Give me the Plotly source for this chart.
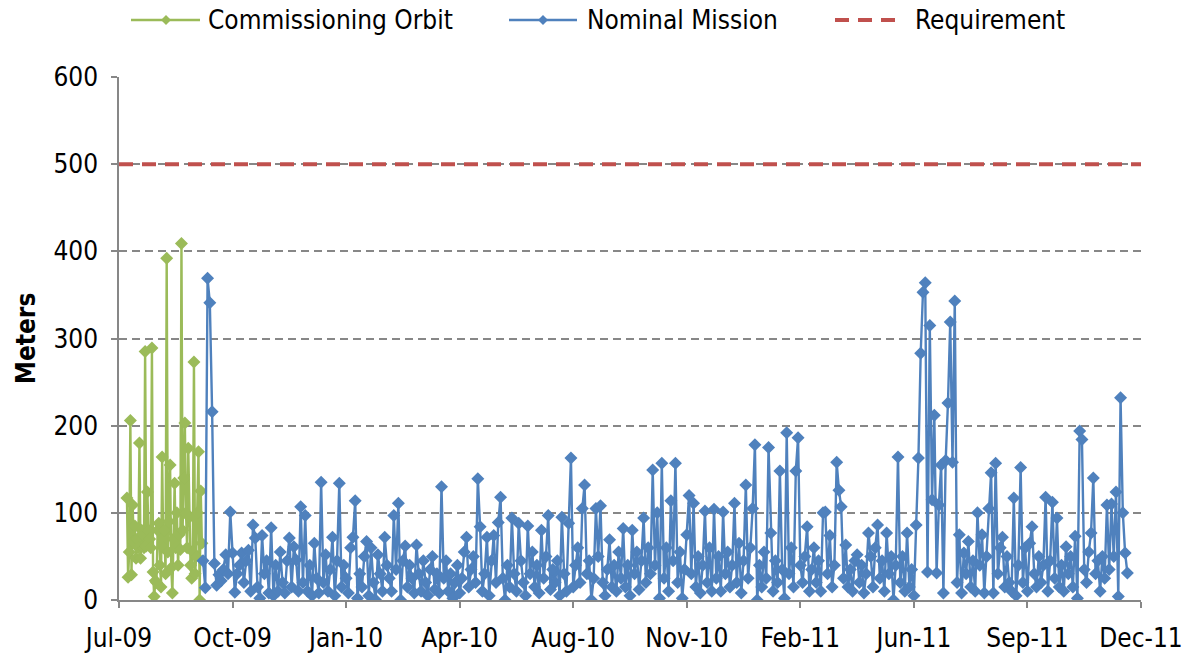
import plotly.graph_objects as go
import pandas as pd

# ---------------- data ----------------
commissioning_start = "2009-07-08"          # daily samples
commissioning_m = [
    117, 26, 55, 206, 29, 109, 67, 85, 48, 70,
    60, 180, 48, 80, 75, 60, 285, 62, 124, 80,
    70, 60, 289, 32, 4, 22, 20, 80, 88, 40,
    15, 164, 60, 80, 30, 392, 55, 90, 155, 37,
    8, 70, 134, 60, 100, 40, 75, 58, 409, 80,
    140, 203, 100, 60, 174, 95, 40, 25, 55, 273,
    30, 50, 100, 170, 0, 125, 65,
]

nominal_start = "2009-09-13"                # samples every 2 days
nominal_m = [
    45, 14, 369, 341, 216, 42, 17, 29, 22, 35,
    52, 30, 101, 54, 9, 30, 40, 54, 20, 45,
    57, 10, 86, 71, 15, 2, 74, 30, 45, 8,
    83, 5, 40, 10, 55, 20, 8, 45, 71, 15,
    61, 46, 10, 107,
    20, 97, 10, 40, 5, 65,
    25, 8, 135, 20, 52, 10, 35, 72, 5, 45,
    134, 15, 40, 25, 8, 60, 72, 114, 2, 30,
    15, 50, 67, 5, 60, 20, 0, 52, 30, 10,
    72, 40, 25, 10, 97, 35, 111, 0, 45, 62,
    15, 40, 25, 8, 63, 30, 10, 45, 20, 5,
    35, 50, 12, 30, 8, 130, 25, 45, 10, 30,
    2, 20, 40, 8, 25, 55, 72, 15, 35, 50,
    20, 139, 84, 10, 30, 72, 5, 45, 74, 20,
    89, 118, 25, 0, 40, 15, 94,
    30, 10, 88,
    45, 20, 5, 85, 30, 55, 15, 40, 8, 80,
    25, 50, 97, 12, 35, 20, 45, 5, 95, 30,
    10, 88, 163, 15, 40, 60, 20, 105, 132, 30,
    45, 0, 25, 105, 50, 108, 20, 5, 35, 69,
    15,
    40, 10, 55, 25, 82, 15, 40, 5, 80,
    30, 55, 12, 45, 94, 20, 60, 30, 149, 40,
    100, 2, 157, 25, 60, 10, 114, 45, 157, 20,
    55, 2, 35, 75, 120, 30, 111, 15, 50, 8,
    40, 102, 20, 60, 10,
    104, 25, 50, 10, 101,
    30, 55, 15, 40, 111, 20, 65, 8, 45, 132,
    25, 60, 105, 178, 0, 40, 15, 55, 25, 175,
    77, 10, 45, 20, 148, 35, 2, 192, 30, 60,
    15, 148, 186, 40, 20, 50, 84, 10, 35, 60,
    20, 45, 10, 100, 101, 30, 74, 15, 40, 158,
    126, 107, 25, 63, 15, 35, 10, 45, 52, 20,
    40, 8, 30, 77, 50, 15, 60, 86, 25, 45,
    10, 77, 30, 50, 0, 40, 164, 20, 50, 10,
    77, 15, 35, 5, 86,
    163, 283, 353, 364, 32,
    315, 115, 212, 31, 109, 155, 8, 160, 226, 319,
    158, 343, 20, 75, 8, 54, 30, 67, 15, 45,
    10, 100, 40, 75, 8, 50, 105, 146, 8, 157,
    30, 60, 72, 15, 50, 20, 10, 117, 5,
    40,
    152, 20, 60, 10, 65, 84, 30, 15, 50, 20,
    40, 118, 10, 45, 112, 25, 94, 15, 40, 10,
    61, 30, 50, 15, 73, 2, 194, 184, 35, 20,
    55, 77, 140, 30, 45, 10, 50, 25, 109, 35,
    110, 50, 124, 4, 232, 100, 54, 31,
]

requirement_m = 500
axis_start = "2009-07-01"
axis_end = "2011-12-18"
tick_step_days = 100
y_ticks = [0, 100, 200, 300, 400, 500, 600]

series_names = ["Commissioning Orbit", "Nominal Mission", "Requirement"]

# ---------------- styling ----------------
GREEN = "#9BBB59"
BLUE = "#4F81BD"
RED = "#C0504D"
GRID = "#878787"
FONT = "Liberation Sans Narrow, Arial Narrow, DejaVu Sans Condensed, sans-serif"
FS = 26

W, H = 1189, 657
ML, MR, MT, MB = 119, 48, 77, 57
PW, PH = W - ML - MR, H - MT - MB

comm_x = pd.date_range(commissioning_start, periods=len(commissioning_m), freq="D")
nom_x = pd.date_range(nominal_start, periods=len(nominal_m), freq="2D")

fig = go.Figure()
fig.add_trace(go.Scatter(
    x=comm_x, y=commissioning_m, mode="lines+markers", name=series_names[0],
    line=dict(color=GREEN, width=2.4),
    marker=dict(symbol="diamond", size=10, color=GREEN),
    showlegend=False))
fig.add_trace(go.Scatter(
    x=nom_x, y=nominal_m, mode="lines+markers", name=series_names[1],
    line=dict(color=BLUE, width=2.4),
    marker=dict(symbol="diamond", size=10, color=BLUE),
    showlegend=False))
fig.add_trace(go.Scatter(
    x=[axis_start, axis_end], y=[requirement_m, requirement_m], mode="lines",
    name=series_names[2],
    line=dict(color=RED, width=4, dash="14px,9px"),
    showlegend=False))

# ---------------- manual legend (to match line length) ----------------
def px2x(px):
    return (px - ML) / PW

def py2y(py):
    return (MT + PH - py) / PH

legend_y = 20
legend_items = [
    (series_names[0], GREEN, 131, 200, 166, 206, "solid"),
    (series_names[1], BLUE, 509, 577, 543, 585, "solid"),
    (series_names[2], RED, 835, 903, None, 913, "dash"),
]
for name, col, x0, x1, mx, tx, style in legend_items:
    yy = py2y(legend_y)
    if style == "dash":
        fig.add_shape(type="line", xref="paper", yref="paper",
                      x0=px2x(x0), x1=px2x(x1), y0=yy, y1=yy,
                      line=dict(color=col, width=4, dash="14px,9px"))
    else:
        fig.add_shape(type="line", xref="paper", yref="paper",
                      x0=px2x(x0), x1=px2x(x1), y0=yy, y1=yy,
                      line=dict(color=col, width=2.4))
        d = 5
        path = (f"M {px2x(mx)} {py2y(legend_y - d)} L {px2x(mx + d)} {yy} "
                f"L {px2x(mx)} {py2y(legend_y + d)} L {px2x(mx - d)} {yy} Z")
        fig.add_shape(type="path", xref="paper", yref="paper", path=path,
                      fillcolor=col, line=dict(color=col, width=0))
    fig.add_annotation(x=px2x(tx), y=yy, xref="paper", yref="paper",
                       text=name, showarrow=False, xanchor="left",
                       yanchor="middle", font=dict(family=FONT, size=FS, color="black"))

fig.update_layout(
    width=W, height=H,
    margin=dict(l=ML, r=MR, t=MT, b=MB, pad=0, autoexpand=False),
    paper_bgcolor="white", plot_bgcolor="white",
    font=dict(family=FONT, size=FS, color="black"),
    showlegend=False,
)
fig.update_xaxes(
    type="date", range=[axis_start, axis_end], automargin=False,
    tick0=axis_start, dtick=tick_step_days * 86400000, tickformat="%b-%y",
    showgrid=False, zeroline=False,
    showline=True, linecolor=GRID, linewidth=1.5,
    ticks="outside", ticklen=6, tickcolor=GRID, tickwidth=1.5,
    tickfont=dict(family=FONT, size=FS, color="black"),
    ticklabelstandoff=8,
)
fig.update_yaxes(
    range=[0, 600], tickvals=y_ticks, automargin=False,
    showgrid=True, gridcolor=GRID, gridwidth=1.5, griddash="8px,5px",
    zeroline=False,
    showline=True, linecolor=GRID, linewidth=1.5,
    ticks="outside", ticklen=6, tickcolor=GRID, tickwidth=1.5,
    tickfont=dict(family=FONT, size=FS, color="black"),
    ticklabelstandoff=8,
    title=dict(text="<b>Meters</b>", font=dict(family=FONT, size=FS, color="black"),
               standoff=10),
)

fig.write_html("out.html",
               config={"displayModeBar": False},
               post_script="document.body.style.margin='0px';document.body.style.overflow='hidden';")
